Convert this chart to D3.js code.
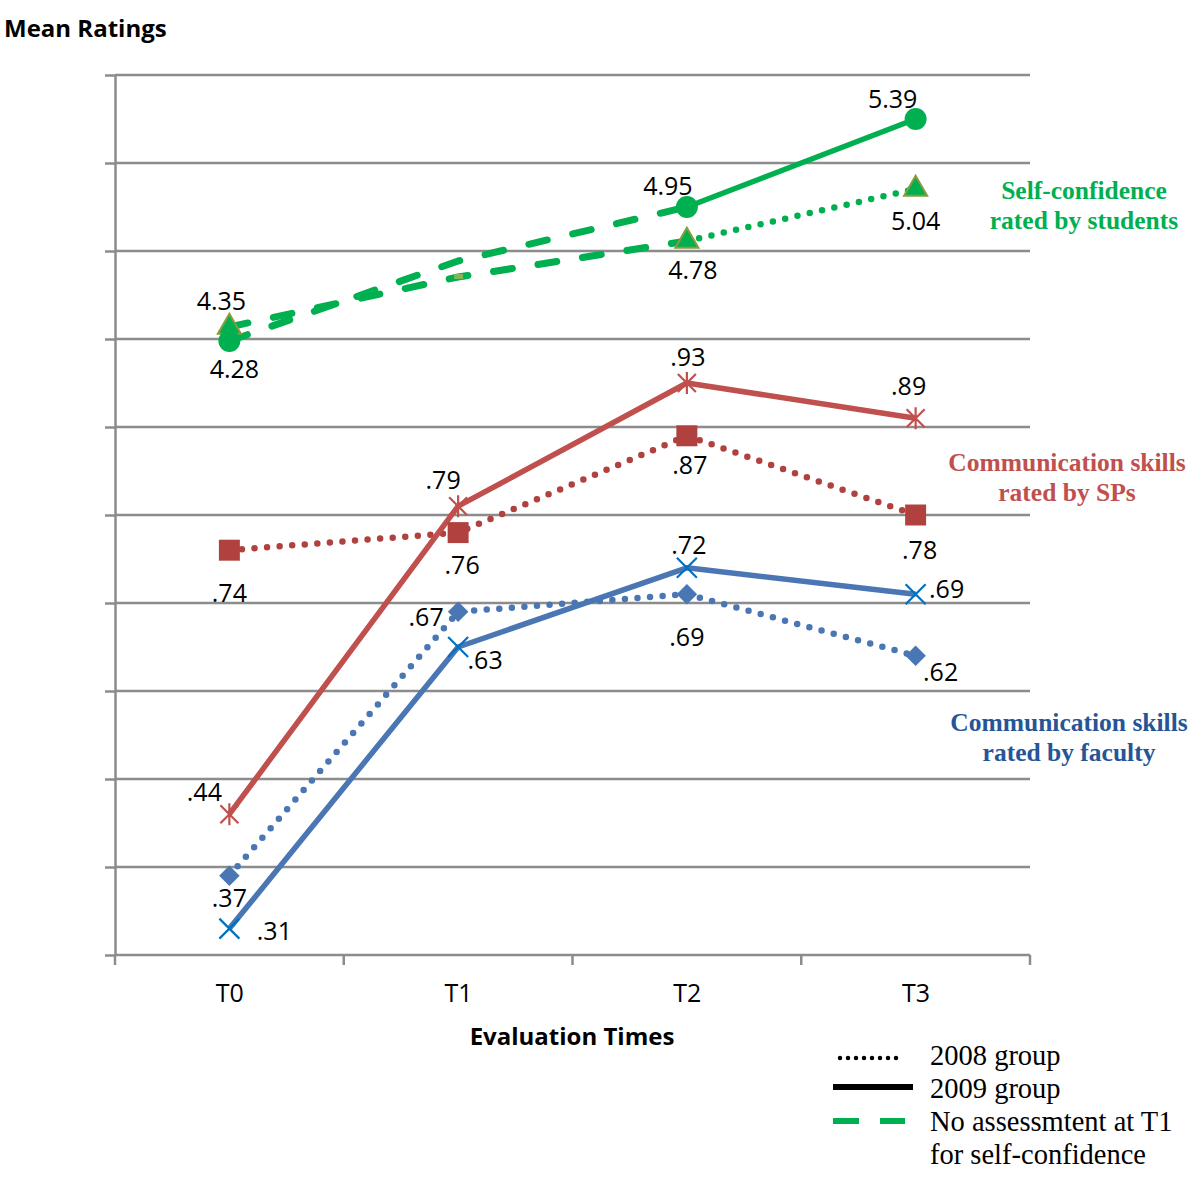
<!DOCTYPE html>
<html><head><meta charset="utf-8">
<script src="https://cdn.jsdelivr.net/npm/d3@7"></script>
<style>
html,body{margin:0;padding:0;background:#fff;}
svg{display:block;}
</style></head>
<body>
<script>
// ---------- DATA ----------
const categories = ["T0", "T1", "T2", "T3"];
// Self-confidence rated by students (T1 not assessed: dashed bridge)
const selfConf2008 = [4.35, 4.60, 4.78, 5.04];
const selfConf2009 = [4.28, 4.68, 4.95, 5.39];
const selfConfLabelled = [true, false, true, true];
// Communication skills rated by SPs
const spRated2008 = [0.74, 0.76, 0.87, 0.78];
const spRated2009 = [0.44, 0.79, 0.93, 0.89];
// Communication skills rated by faculty
const facRated2008 = [0.37, 0.67, 0.69, 0.62];
const facRated2009 = [0.31, 0.63, 0.72, 0.69];
// gridline values (on communication-skills scale)
const gridValues = [0.28, 0.38, 0.48, 0.58, 0.68, 0.78, 0.88, 0.98, 1.08, 1.18, 1.28];
const legendLabels = ["2008 group", "2009 group", "No assessmtent at T1", "for self-confidence"];
const seriesTitles = [["Self-confidence", "rated by students"], ["Communication skills", "rated by SPs"], ["Communication skills", "rated by faculty"]];

// label offsets (dx, dy) relative to each point
const offSelf2008 = [[-8, -17], null, [6, 38], [0, 41]];
const offSelf2009 = [[5, 37], null, [-19, -12], [-23, -11]];
const offSp2008 = [[0, 52], [4, 41], [3, 38], [4, 44]];
const offSp2009 = [[-25, -13], [-15, -17], [1, -17], [-7, -23]];
const offFac2008 = [[0, 31], [-32, 14], [0, 52], [25, 25]];
const offFac2009 = [[45, 11], [27, 22], [2, -14], [31, 4]];

// ---------- SETUP ----------
const W = 1200, H = 1181;
const svg = d3.select("body").append("svg").attr("width", W).attr("height", H);
const plot = {left: 115, right: 1030, top: 75, bottom: 955};

const GREEN = "#00B050", RED = "#C0504D", RED_SQ = "#B0413E", BLUE = "#4A77B4", BLUE_X = "#0070C0", GRID = "#8C8C8C";
const SANS = "'Open Sans', 'Noto Sans', sans-serif";
const SERIF = "'Liberation Serif', 'DejaVu Serif', serif";

const x = d3.scalePoint().domain(categories).range([plot.left, plot.right]).padding(0.5);
const yComm = d3.scaleLinear().domain([0.28, 1.28]).range([plot.bottom, plot.top]);
const ySelf = d3.scaleLinear().domain([1.21, 5.61]).range([plot.bottom, plot.top]);

// gridlines via axis
const gAxisY = svg.append("g").attr("transform", `translate(${plot.left},0)`)
  .call(d3.axisLeft(yComm).tickValues(gridValues).tickFormat("").tickSize(10).tickSizeOuter(0));
gAxisY.selectAll("line").attr("stroke", GRID).attr("stroke-width", 2.5);
gAxisY.select(".domain").attr("stroke", GRID).attr("stroke-width", 2.5);
svg.append("g").selectAll("line").data(gridValues.slice(1)).join("line")
  .attr("x1", plot.left).attr("x2", plot.right)
  .attr("y1", d => yComm(d)).attr("y2", d => yComm(d))
  .attr("stroke", GRID).attr("stroke-width", 2.5);

// x axis
const step = x.step();
const gAxisX = svg.append("g").attr("transform", `translate(0,${plot.bottom})`)
  .call(d3.axisBottom(x).tickSize(0).tickSizeOuter(0));
gAxisX.select(".domain").attr("stroke", GRID).attr("stroke-width", 2.5).attr("d", `M${plot.left},0H${plot.right}`);
gAxisX.selectAll("text").attr("font-family", SANS).attr("font-size", 25).attr("fill", "#000").attr("dy", null).attr("y", 47);
const boundaries = categories.map(c => x(c) - step / 2).concat([x(categories[categories.length - 1]) + step / 2]);
gAxisX.selectAll("line.bnd").data(boundaries).join("line").attr("class", "bnd")
  .attr("x1", d => d).attr("x2", d => d).attr("y1", 0).attr("y2", 10)
  .attr("stroke", GRID).attr("stroke-width", 2.5);

// axis titles
svg.append("text").attr("x", 4).attr("y", 37).text("Mean Ratings")
  .attr("font-family", SANS).attr("font-weight", "bold").attr("font-size", 24);
svg.append("text").attr("x", 572).attr("y", 1045).attr("text-anchor", "middle").text("Evaluation Times")
  .attr("font-family", SANS).attr("font-weight", "bold").attr("font-size", 24);

// ---------- LINES ----------
const styles = {
  solid: {w: 5.5, dash: null, cap: "butt"},
  dotted: {w: 6.5, dash: "0 12.6", cap: "round"},
  dashed: {w: 7, dash: "19 26", cap: "round"}
};
function drawLine(vals, yScale, color, style, idx) {
  const pts = idx.map(i => [x(categories[i]), yScale(vals[i])]);
  const s = styles[style];
  svg.append("path").attr("d", d3.line()(pts)).attr("fill", "none")
    .attr("stroke", color).attr("stroke-width", s.w)
    .attr("stroke-dasharray", s.dash).attr("stroke-linecap", s.cap).attr("stroke-linejoin", "round");
}
// communication lines
drawLine(facRated2008, yComm, BLUE, "dotted", [0, 1, 2, 3]);
drawLine(facRated2009, yComm, BLUE, "solid", [0, 1, 2, 3]);
drawLine(spRated2008, yComm, RED_SQ, "dotted", [0, 1, 2, 3]);
drawLine(spRated2009, yComm, RED, "solid", [0, 1, 2, 3]);
// self-confidence
drawLine(selfConf2008, ySelf, GREEN, "dashed", [0, 1, 2]);
drawLine(selfConf2009, ySelf, GREEN, "dashed", [0, 1, 2]);
drawLine(selfConf2008, ySelf, GREEN, "dotted", [2, 3]);
drawLine(selfConf2009, ySelf, GREEN, "solid", [2, 3]);

// ---------- MARKERS ----------
const markerPaths = {
  circle: d3.symbol(d3.symbolCircle, 380)(),
  triangle: d3.symbol(d3.symbolTriangle, 230)(),
  square: d3.symbol(d3.symbolSquare, 440)(),
  diamond: d3.symbol(d3.symbolSquare, 210)(),
  cross: "M-10,-10L10,10M-10,10L10,-10",
  star: "M-9,-9L9,9M-9,9L9,-9M0,-11L0,11"
};
function drawMarkers(vals, yScale, type, fill, stroke, sw, idx, rot) {
  svg.append("g").selectAll("path").data(idx).join("path")
    .attr("d", markerPaths[type])
    .attr("transform", i => `translate(${x(categories[i])},${yScale(vals[i])})` + (rot ? ` rotate(${rot})` : ""))
    .attr("fill", fill).attr("stroke", stroke).attr("stroke-width", sw);
}
drawMarkers(facRated2008, yComm, "diamond", BLUE, "none", 0, [0, 1, 2, 3], 45);
drawMarkers(facRated2009, yComm, "cross", "none", BLUE_X, 2.2, [0, 1, 2, 3]);
drawMarkers(spRated2008, yComm, "square", RED_SQ, "none", 0, [0, 1, 2, 3]);
drawMarkers(spRated2009, yComm, "star", "none", RED, 2.2, [0, 1, 2, 3]);
drawMarkers(selfConf2008, ySelf, "triangle", GREEN, "#8A9A3C", 2, [0, 2, 3]);
drawMarkers(selfConf2009, ySelf, "circle", GREEN, "none", 0, [0, 2, 3]);
// tiny hidden-point marker at T1 (2008 self-confidence)
svg.append("rect").attr("x", x(categories[1]) - 4).attr("y", ySelf(selfConf2008[1]) - 3)
  .attr("width", 9).attr("height", 5).attr("fill", "#9BBB59").attr("opacity", 0.8);

// ---------- DATA LABELS ----------
const fmtComm = v => d3.format(".2f")(v).replace(/^0/, "");
const fmtSelf = v => d3.format(".2f")(v);
function drawLabels(vals, yScale, offs, fmt, show) {
  const idx = d3.range(vals.length).filter(i => (!show || show[i]) && offs[i]);
  svg.append("g").selectAll("text").data(idx).join("text")
    .attr("x", i => x(categories[i]) + offs[i][0])
    .attr("y", i => yScale(vals[i]) + offs[i][1])
    .attr("text-anchor", "middle").attr("font-family", SANS).attr("font-size", 25).attr("fill", "#000")
    .text(i => fmt(vals[i]));
}
drawLabels(selfConf2008, ySelf, offSelf2008, fmtSelf, selfConfLabelled);
drawLabels(selfConf2009, ySelf, offSelf2009, fmtSelf, selfConfLabelled);
drawLabels(spRated2008, yComm, offSp2008, fmtComm);
drawLabels(spRated2009, yComm, offSp2009, fmtComm);
drawLabels(facRated2008, yComm, offFac2008, fmtComm);
drawLabels(facRated2009, yComm, offFac2009, fmtComm);

// ---------- SERIES TITLES ----------
const titleSpecs = [
  {lines: seriesTitles[0], x: 1084, y: 199, color: "#00B050"},
  {lines: seriesTitles[1], x: 1067, y: 471, color: "#C0504D"},
  {lines: seriesTitles[2], x: 1069, y: 731, color: "#255597"}
];
titleSpecs.forEach(t => {
  svg.append("text").attr("x", t.x).attr("y", t.y).attr("text-anchor", "middle")
    .attr("font-family", SERIF).attr("font-weight", "bold").attr("font-size", 25.5).attr("fill", t.color)
    .selectAll("tspan").data(t.lines).join("tspan")
    .attr("x", t.x).attr("dy", (d, i) => i ? 30 : 0).text(d => d);
});

// ---------- LEGEND ----------
const lg = svg.append("g");
lg.append("line").attr("x1", 840).attr("x2", 904).attr("y1", 1058).attr("y2", 1058)
  .attr("stroke", "#000").attr("stroke-width", 4.5).attr("stroke-dasharray", "0 8").attr("stroke-linecap", "round");
lg.append("line").attr("x1", 833).attr("x2", 913).attr("y1", 1087).attr("y2", 1087)
  .attr("stroke", "#000").attr("stroke-width", 6);
lg.append("line").attr("x1", 833).attr("x2", 905).attr("y1", 1121).attr("y2", 1121)
  .attr("stroke", GREEN).attr("stroke-width", 6).attr("stroke-dasharray", "26 21");
lg.selectAll("text").data(legendLabels).join("text")
  .attr("x", 930).attr("y", (d, i) => 1065 + i * 33)
  .attr("font-family", SERIF).attr("font-size", 28.5).attr("fill", "#000").text(d => d);
</script>
</body></html>
